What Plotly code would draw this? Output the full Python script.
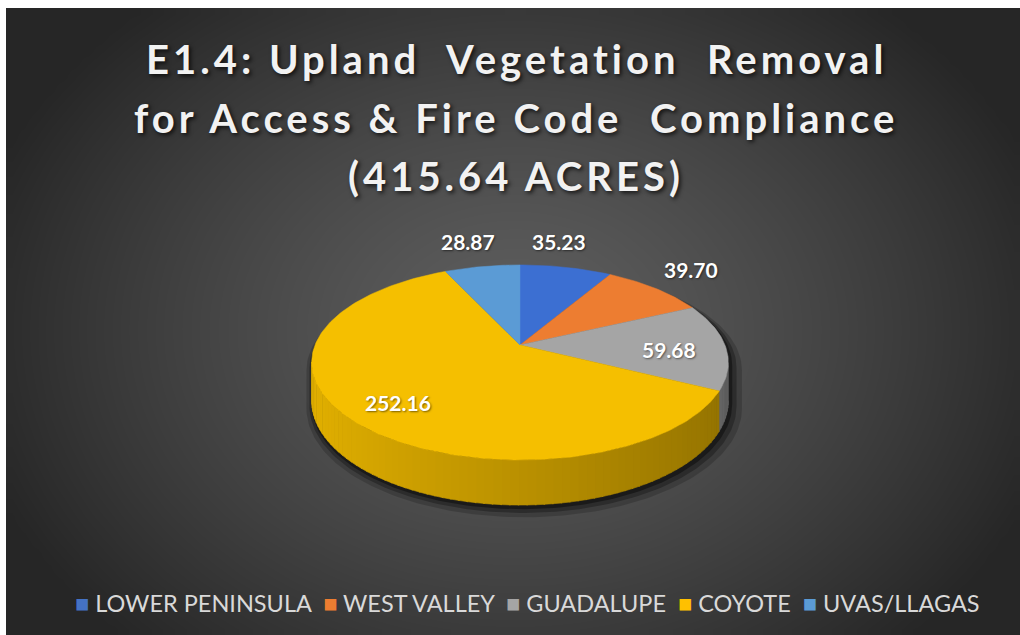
import numpy as np
import plotly.graph_objects as go

# ---------------- data ----------------
categories = ["LOWER PENINSULA", "WEST VALLEY", "GUADALUPE", "COYOTE", "UVAS/LLAGAS"]
values = [35.23, 39.70, 59.68, 252.16, 28.87]
value_labels = ["35.23", "39.70", "59.68", "252.16", "28.87"]
title_lines = ["E1.4: Upland\u00a0\u00a0Vegetation\u00a0\u00a0Removal",
               "for Access & Fire Code\u00a0\u00a0Compliance",
               "(415.64 ACRES)"]

# ---------------- style ----------------
colors = ["#3C6FD2", "#ED7D31", "#A5A5A5", "#F5BF00", "#5B9BD5"]
legend_colors = ["#4472C4", "#ED7D31", "#A5A5A5", "#FFC000", "#5B9BD5"]
W, H = 1020, 635
BORDER_L, BORDER_T = 6, 8
CX, CY = 520, 345          # apex of the pie (pixels)
R, B, K = 205, 94.4, 0.179  # projection of the tilted disc
DEPTH = 37
label_pos = [(559, 241), (691, 269), (669, 349), (398, 402), (468, 241)]
title_y = [59, 118, 176]


def proj(theta_deg, drop=0.0, scale=1.0):
    t = np.radians(np.asarray(theta_deg, dtype=float))
    z = np.cos(t)
    f = 1.0 / (1.0 + K * z)
    x = CX + scale * R * np.sin(t) * f
    y = CY - scale * B * z * f + drop * f
    return x, y


def shade(hexc, k):
    hexc = hexc.lstrip("#")
    r, g, b = (int(hexc[i:i + 2], 16) for i in (0, 2, 4))
    return "rgb(%d,%d,%d)" % (min(255, r * k), min(255, g * k), min(255, b * k))


fig = go.Figure()

# ---------------- background radial gradient ----------------
nx, ny = 80, 50
dx = (W - BORDER_L) / nx
dy = (H - BORDER_T) / ny
gx = BORDER_L + dx / 2 + dx * np.arange(nx)
gy = BORDER_T + dy / 2 + dy * np.arange(ny)
XX, YY = np.meshgrid(gx, gy)
dist = np.sqrt(((XX - 515) / 560.0) ** 2 + ((YY - 330) / 430.0) ** 2)
dist = np.clip(dist, 0, 1) ** 1.3
fig.add_trace(go.Heatmap(x=gx, y=gy, z=dist, zmin=0, zmax=1, zsmooth="best",
                         colorscale=[[0, "#5E5E5E"], [1, "#262626"]],
                         showscale=False, hoverinfo="skip"))

# ---------------- pie geometry ----------------
total = sum(values)
bounds = np.concatenate([[0], np.cumsum(values) / total * 360.0])
vis_lo = np.degrees(np.arccos(-K))
vis_hi = 360 - vis_lo

# soft shadow
for s, a, off in [(1.045, 0.18, 7), (1.025, 0.28, 5), (1.01, 0.4, 3)]:
    th_back = np.linspace(vis_hi - 360, vis_lo, 120)
    th_front = np.linspace(vis_lo, vis_hi, 120)
    xb, yb = proj(th_back, 0, s)
    xf, yf = proj(th_front, DEPTH, s)
    fig.add_trace(go.Scatter(x=np.concatenate([xb, xf]) + off * 0.6,
                             y=np.concatenate([yb, yf]) + off,
                             fill="toself", mode="lines", line=dict(width=0),
                             fillcolor="rgba(0,0,0,%.2f)" % a,
                             hoverinfo="skip", showlegend=False))

# side walls (front visible part), shaded by position
for i, c in enumerate(colors):
    a0, a1 = max(bounds[i], vis_lo), min(bounds[i + 1], vis_hi)
    if a1 <= a0:
        continue
    steps = np.linspace(a0, a1, max(2, int((a1 - a0) / 2) + 2))
    for t0, t1 in zip(steps[:-1], steps[1:]):
        th = np.linspace(t0, t1 + 0.3, 4)
        xt, yt = proj(th)
        xbm, ybm = proj(th[::-1], DEPTH)
        k = 0.76 - 0.17 * np.sin(np.radians((t0 + t1) / 2))
        col = shade(c, k)
        fig.add_trace(go.Scatter(x=np.concatenate([xt, xbm]), y=np.concatenate([yt, ybm]),
                                 fill="toself", mode="lines",
                                 line=dict(width=0.6, color=col), fillcolor=col,
                                 hoverinfo="skip", showlegend=False))

# top faces
for i, c in enumerate(colors):
    th = np.linspace(bounds[i], bounds[i + 1], max(3, int(bounds[i + 1] - bounds[i]) + 2))
    xs, ys = proj(th)
    fig.add_trace(go.Scatter(x=np.concatenate([[CX], xs, [CX]]),
                             y=np.concatenate([[CY], ys, [CY]]),
                             fill="toself", mode="lines", line=dict(width=0.5, color=c),
                             fillcolor=c, name=categories[i],
                             hovertemplate=categories[i] + ": %s<extra></extra>" % value_labels[i],
                             showlegend=False))

# ---------------- annotations ----------------
shadow_big = "2px 2px 4px rgba(0,0,0,0.75)"
for ty, line in zip(title_y, title_lines):
    fig.add_annotation(x=516, y=ty, xref="x", yref="y",
                       text="<b><span style='letter-spacing:4px'>%s</span></b>" % line,
                       showarrow=False, xanchor="center", yanchor="middle",
                       font=dict(family="Lato", size=40, color="#F2F2F2", shadow=shadow_big))

for (lx, ly), t in zip(label_pos, value_labels):
    fig.add_annotation(x=lx, y=ly, xref="x", yref="y", text="<b>%s</b>" % t, showarrow=False,
                       xanchor="center", yanchor="middle",
                       font=dict(family="Lato", size=21, color="#FFFFFF",
                                 shadow="1px 1px 2px rgba(0,0,0,0.5)"))

legend_text = "\u00a0\u00a0".join(
    "<span style='color:%s'>\u25A0</span>%s" % (lc, "\u00a0" + cat)
    for lc, cat in zip(legend_colors, categories))
fig.add_annotation(x=527, y=603, xref="x", yref="y", text=legend_text, showarrow=False,
                   xanchor="center", yanchor="middle",
                   font=dict(family="Lato", size=23.5, color="#D9D9D9"))

fig.update_layout(
    width=W, height=H, margin=dict(l=0, r=0, t=0, b=0),
    paper_bgcolor="white", plot_bgcolor="white", showlegend=False,
    xaxis=dict(range=[0, W], visible=False, fixedrange=True),
    yaxis=dict(range=[H, 0], visible=False, fixedrange=True),
)

fig.write_html("out.html", config={"displayModeBar": False},
               post_script="document.body.style.margin='0';")
